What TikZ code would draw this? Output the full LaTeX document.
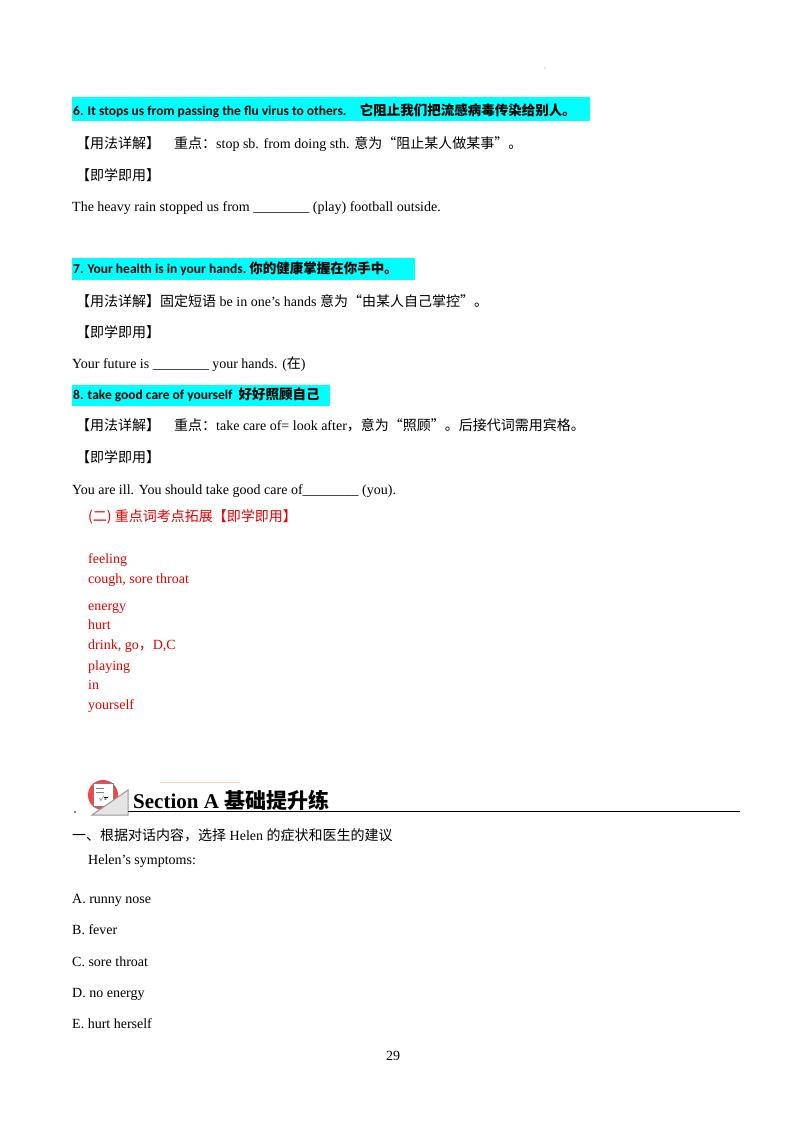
\documentclass[tikz,border=0pt]{standalone}
\usepackage{fontspec}
\setmainfont{Liberation Serif}
\newfontfamily\headfont{Carlito}
\newfontfamily\cjk{Noto Sans CJK SC}
\definecolor{hlcyan}{RGB}{0,255,255}
\definecolor{ansred}{RGB}{230,0,0}
\tikzset{
  body/.style={anchor=west, inner sep=0pt, text height=9.5pt, text depth=3pt, font=\fontsize{14}{16}\selectfont},
  head/.style={anchor=west, inner sep=0pt, text height=9.5pt, text depth=3pt, font=\fontsize{13.5}{16}\headfont\bfseries},
  answer/.style={body, text=ansred},
}
\newcommand{\zh}[1]{{\cjk #1}}
\begin{document}
\begin{tikzpicture}[x=1pt,y=-1pt]
  \useasboundingbox (0,0) rectangle (800,1132);
  \fill[black!40] (545,68) circle (0.6);
  %Item 6
  \fill[hlcyan] (72,97) rectangle (590,121);
  \node[head] (h6) at (73,112) {6. It stops us from passing the flu virus to others.\quad \zh{它阻止我们把流感病毒传染给别人。}};
  \node[body] (u6) at (76,145) {\zh{【用法详解】}\quad \zh{重点：}stop sb. from doing sth. \zh{意为“阻止某人做某事”。}};
  \node[body] (p6) at (76,177) {\zh{【即学即用】}};
  \node[body] (e6) at (72,208) {The heavy rain stopped us from \_\_\_\_\_\_\_\_ (play) football outside.};
  %Item 7
  \fill[hlcyan] (72,258) rectangle (415,280);
  \node[head] (h7) at (73,270) {7. Your health is in your hands.\ \zh{你的健康掌握在你手中。}};
  \node[body] (u7) at (76,303) {\zh{【用法详解】固定短语} be in one's hands \zh{意为“由某人自己掌控”。}};
  \node[body] (p7) at (76,334) {\zh{【即学即用】}};
  \node[body] (e7) at (72,365) {Your future is \_\_\_\_\_\_\_\_ your hands. (\zh{在})};
  %Item 8
  \fill[hlcyan] (72,385) rectangle (330,406);
  \node[head] (h8) at (73,396) {8. take good care of yourself\ \ \zh{好好照顾自己}};
  \node[body] (u8) at (76,427) {\zh{【用法详解】}\quad \zh{重点：}take care of= look after\zh{，意为“照顾”。后接代词需用宾格。}};
  \node[body] (p8) at (76,459) {\zh{【即学即用】}};
  \node[body] (e8) at (72,491) {You are ill. You should take good care of\_\_\_\_\_\_\_\_ (you).};
  %Answers
  \node[answer] (a0) at (88,518) {\zh{(二)\ 重点词考点拓展【即学即用】}};
  \foreach \y/\t in {560/feeling, 580/{cough, sore throat}, 607/energy, 626/hurt,
                     646/{drink, go\zh{，}D,C}, 667/playing, 686/in, 706/yourself}
    \node[answer] at (88,\y) {\t};
  %Section heading
  \draw[orange!30, line width=1pt] (160,782) -- (240,782);
  \fill[black] (75,812) circle (0.8);
  \fill[red!75] (103,795) circle (15);
  \fill[white, draw=gray] (93,783) rectangle (113,806);
  \foreach \yy in {788,792} \draw[gray] (96,\yy) -- (104,\yy);
  \node[inner sep=0pt, font=\tiny] (root) at (103,799) {$\sqrt{x}$};
  \draw[gray!80, fill=gray!20, line width=1pt] (128,790) -- (128,815) -- (92,815) -- cycle;
  \node[anchor=west, inner sep=0pt, font=\fontsize{21}{24}\selectfont\bfseries] (sec) at (133,800) {Section A \zh{基础提升练}};
  \draw[line width=0.8pt] (128,811) -- (740,811);
  \node[body] (q1) at (72,837) {\zh{一、根据对话内容，选择} Helen \zh{的症状和医生的建议}};
  \node[body] (sy) at (88,861) {Helen's symptoms:};
  \foreach \y/\t in {900/A. runny nose, 931/B. fever, 963/C. sore throat, 994/D. no energy, 1025/E. hurt herself}
    \node[body] at (72,\y) {\t};
  \node[body, anchor=center] (pg) at (393,1057) {29};
\end{tikzpicture}
\end{document}
